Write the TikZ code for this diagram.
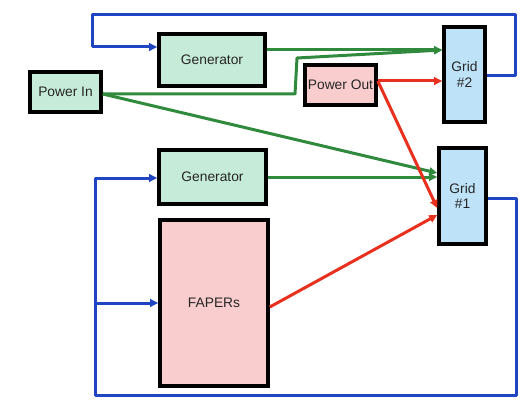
\documentclass[tikz,border=0pt]{standalone}
\usepackage{fontspec}
\setmainfont{Liberation Sans}
\usetikzlibrary{arrows.meta}
\definecolor{boxgreen}{HTML}{C6EBD8}
\definecolor{boxpink}{HTML}{F9CDCD}
\definecolor{boxblue}{HTML}{BEE3F8}
\definecolor{lgreen}{HTML}{2F8A3E}
\definecolor{lblue}{HTML}{1F45C2}
\definecolor{lred}{HTML}{E8301E}
\begin{document}
\begin{tikzpicture}[x=1pt,y=-1pt,
  box/.style={draw=black,line width=3.6pt,inner sep=0pt,align=center,font=\fontsize{13.8}{15.5}\selectfont,text=black!85},
  gbox/.style={box,fill=boxgreen},
  pbox/.style={box,fill=boxpink},
  bbox/.style={box,fill=boxblue},
  conn/.style={line width=3pt,line join=round},
  tip/.style={-{Triangle[length=8pt,width=7.5pt]}},
  gline/.style={conn,draw=lgreen},
  bline/.style={conn,draw=lblue},
  rline/.style={conn,draw=lred}]
\useasboundingbox (0,0) rectangle (524,401);
\node[gbox,minimum width=106pt,minimum height=52pt] (gen2) at (212,60) {Generator};
\node[gbox,minimum width=71pt,minimum height=40pt] (pin) at (65.5,92) {Power In};
\node[pbox,minimum width=71pt,minimum height=40pt] (pout) at (340.5,85) {Power Out};
\node[bbox,minimum width=41pt,minimum height=95pt] (grid2) at (464.5,74.5) {Grid\\\#2};
\node[bbox,minimum width=47pt,minimum height=96pt] (grid1) at (462.5,196) {Grid\\\#1};
\node[gbox,minimum width=107pt,minimum height=54pt] (gen1) at (212.5,177) {Generator};
\node[pbox,minimum width=108pt,minimum height=166pt] (fap) at (214,303) {FAPERs};
% blue loops
\coordinate (b1) at (515,76);
\coordinate (b2) at (515,15);
\coordinate (b3) at (92,15);
\coordinate (b4) at (92,47);
\draw[bline,tip] (grid2.east |- b1) -- (b1) -- (b2) -- (b3) -- (b4) -- (gen2.west |- b4);
\coordinate (c1) at (516,198);
\coordinate (c2) at (516,395);
\coordinate (c3) at (95,395);
\coordinate (c4) at (95,178);
\coordinate (c5) at (95,303);
\draw[bline,tip] (grid1.east |- c1) -- (c1) -- (c2) -- (c3) -- (c4) -- (gen1.west |- c4);
\draw[bline,tip] (c5) -- (fap.west |- c5);
% green
\coordinate (g0) at (0,50);
\coordinate (p0) at (0,94);
\coordinate (p1) at (295,94);
\coordinate (p2) at (297,58);
\draw[gline,tip] (gen2.east |- g0) -- (grid2.west |- g0);
\draw[gline,tip] (pin.east |- p0) -- (p1) -- (p2) -- (grid2.west |- g0);
\coordinate (g1) at (0,173);
\draw[gline,tip] (pin.east |- p0) -- (grid1.west |- g1);
\draw[gline,tip] (gen1.east) -- (grid1.west |- gen1.east);
% red
\coordinate (r0) at (0,81);
\coordinate (r1) at (0,208);
\coordinate (r2) at (0,307);
\coordinate (r3) at (0,215);
\draw[rline,tip] (pout.east |- r0) -- (grid2.west |- r0);
\draw[rline,tip] (pout.east |- r0) -- (grid1.west |- r1);
\draw[rline,tip] (fap.east |- r2) -- (grid1.west |- r3);
\end{tikzpicture}
\end{document}
